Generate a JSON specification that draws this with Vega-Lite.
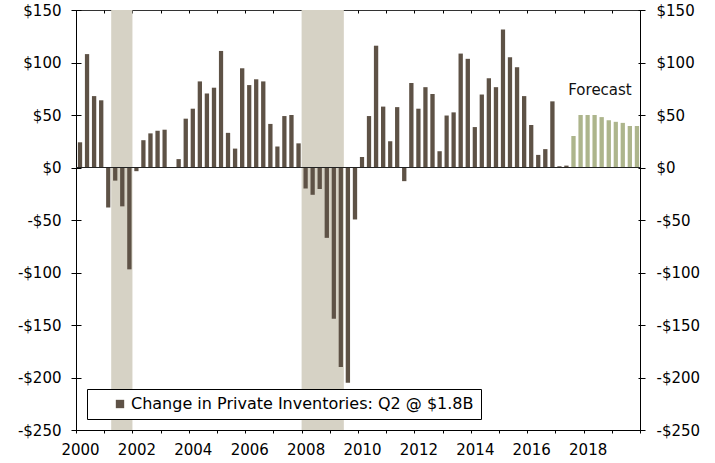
{
  "$schema": "https://vega.github.io/schema/vega-lite/v6.json",
  "width": 564,
  "height": 420,
  "autosize": {"type": "none"},
  "padding": {"left": 76, "top": 10, "right": 75, "bottom": 33},
  "background": "#ffffff",
  "config": {
    "font": "DejaVu Sans",
    "view": {"stroke": "#333333", "strokeWidth": 1},
    "axis": {
      "labelFont": "DejaVu Sans",
      "labelFontSize": 15,
      "labelColor": "#000000",
      "domainColor": "#000000",
      "tickColor": "#000000",
      "grid": false,
      "title": null
    }
  },
  "datasets": {
    "inv": [
      {"date": "2000-01-01", "value": 24, "series": "A"},
      {"date": "2000-04-01", "value": 108, "series": "A"},
      {"date": "2000-07-01", "value": 68, "series": "A"},
      {"date": "2000-10-01", "value": 64, "series": "A"},
      {"date": "2001-01-01", "value": -38, "series": "A"},
      {"date": "2001-04-01", "value": -12.5, "series": "A"},
      {"date": "2001-07-01", "value": -37, "series": "A"},
      {"date": "2001-10-01", "value": -97, "series": "A"},
      {"date": "2002-01-01", "value": -3.5, "series": "A"},
      {"date": "2002-04-01", "value": 26, "series": "A"},
      {"date": "2002-07-01", "value": 32.5, "series": "A"},
      {"date": "2002-10-01", "value": 35, "series": "A"},
      {"date": "2003-01-01", "value": 36, "series": "A"},
      {"date": "2003-04-01", "value": 0, "series": "A"},
      {"date": "2003-07-01", "value": 8, "series": "A"},
      {"date": "2003-10-01", "value": 46.5, "series": "A"},
      {"date": "2004-01-01", "value": 56, "series": "A"},
      {"date": "2004-04-01", "value": 82, "series": "A"},
      {"date": "2004-07-01", "value": 70.5, "series": "A"},
      {"date": "2004-10-01", "value": 76, "series": "A"},
      {"date": "2005-01-01", "value": 111, "series": "A"},
      {"date": "2005-04-01", "value": 33, "series": "A"},
      {"date": "2005-07-01", "value": 18, "series": "A"},
      {"date": "2005-10-01", "value": 94.5, "series": "A"},
      {"date": "2006-01-01", "value": 78.5, "series": "A"},
      {"date": "2006-04-01", "value": 84, "series": "A"},
      {"date": "2006-07-01", "value": 82, "series": "A"},
      {"date": "2006-10-01", "value": 41.5, "series": "A"},
      {"date": "2007-01-01", "value": 20, "series": "A"},
      {"date": "2007-04-01", "value": 49, "series": "A"},
      {"date": "2007-07-01", "value": 50, "series": "A"},
      {"date": "2007-10-01", "value": 23, "series": "A"},
      {"date": "2008-01-01", "value": -20, "series": "A"},
      {"date": "2008-04-01", "value": -26, "series": "A"},
      {"date": "2008-07-01", "value": -20.5, "series": "A"},
      {"date": "2008-10-01", "value": -67, "series": "A"},
      {"date": "2009-01-01", "value": -144, "series": "A"},
      {"date": "2009-04-01", "value": -190, "series": "A"},
      {"date": "2009-07-01", "value": -205, "series": "A"},
      {"date": "2009-10-01", "value": -49.5, "series": "A"},
      {"date": "2010-01-01", "value": 10, "series": "A"},
      {"date": "2010-04-01", "value": 49, "series": "A"},
      {"date": "2010-07-01", "value": 116, "series": "A"},
      {"date": "2010-10-01", "value": 58, "series": "A"},
      {"date": "2011-01-01", "value": 25, "series": "A"},
      {"date": "2011-04-01", "value": 57.5, "series": "A"},
      {"date": "2011-07-01", "value": -13, "series": "A"},
      {"date": "2011-10-01", "value": 80.5, "series": "A"},
      {"date": "2012-01-01", "value": 56, "series": "A"},
      {"date": "2012-04-01", "value": 76.5, "series": "A"},
      {"date": "2012-07-01", "value": 70, "series": "A"},
      {"date": "2012-10-01", "value": 15.5, "series": "A"},
      {"date": "2013-01-01", "value": 49.5, "series": "A"},
      {"date": "2013-04-01", "value": 52.5, "series": "A"},
      {"date": "2013-07-01", "value": 108.5, "series": "A"},
      {"date": "2013-10-01", "value": 103.5, "series": "A"},
      {"date": "2014-01-01", "value": 38.5, "series": "A"},
      {"date": "2014-04-01", "value": 69.5, "series": "A"},
      {"date": "2014-07-01", "value": 85, "series": "A"},
      {"date": "2014-10-01", "value": 76.5, "series": "A"},
      {"date": "2015-01-01", "value": 131.5, "series": "A"},
      {"date": "2015-04-01", "value": 105, "series": "A"},
      {"date": "2015-07-01", "value": 95.5, "series": "A"},
      {"date": "2015-10-01", "value": 68, "series": "A"},
      {"date": "2016-01-01", "value": 40.5, "series": "A"},
      {"date": "2016-04-01", "value": 12, "series": "A"},
      {"date": "2016-07-01", "value": 17.5, "series": "A"},
      {"date": "2016-10-01", "value": 63, "series": "A"},
      {"date": "2017-01-01", "value": 1.2, "series": "A"},
      {"date": "2017-04-01", "value": 1.8, "series": "A"},
      {"date": "2017-07-01", "value": 30, "series": "F"},
      {"date": "2017-10-01", "value": 50, "series": "F"},
      {"date": "2018-01-01", "value": 50, "series": "F"},
      {"date": "2018-04-01", "value": 50, "series": "F"},
      {"date": "2018-07-01", "value": 48, "series": "F"},
      {"date": "2018-10-01", "value": 45, "series": "F"},
      {"date": "2019-01-01", "value": 43.5, "series": "F"},
      {"date": "2019-04-01", "value": 42.5, "series": "F"},
      {"date": "2019-07-01", "value": 39.5, "series": "F"},
      {"date": "2019-10-01", "value": 39.5, "series": "F"}
    ],
    "rec": [
      {"start": "2001-04-01", "end": "2002-01-01"},
      {"start": "2008-01-01", "end": "2009-07-01"}
    ],
    "note": [
      {"date": "2018-08-01", "value": 74, "label": "Forecast"}
    ]
  },
  "layer": [
    {
      "data": {"name": "rec"},
      "mark": {"type": "rect", "color": "#d6d2c5"},
      "encoding": {
        "x": {
          "field": "start",
          "type": "temporal",
          "scale": {"type": "utc", "domain": [{"year": 2000, "month": 1, "date": 1, "utc": true}, {"year": 2020, "month": 1, "date": 1, "utc": true}]},
          "axis": {
            "tickCount": {"interval": "year", "step": 1},
            "labelExpr": "utcyear(datum.value) % 2 == 0 && utcyear(datum.value) < 2020 ? utcFormat(datum.value, '%Y') : ''",
            "tickSize": 3,
            "labelPadding": 9,
            "labelOffset": 4,
            "labelFlush": false,
            "labelOverlap": false
          }
        },
        "x2": {"field": "end"},
        "y": {
          "datum": 150,
          "type": "quantitative",
          "axis": {
            "orient": "right",
            "offset": -2,
            "values": [-250, -200, -150, -100, -50, 0, 50, 100, 150],
            "labels": false,
            "domain": false,
            "tickSize": 2
          }
        },
        "y2": {"datum": -250}
      }
    },
    {
      "data": {"name": "inv"},
      "mark": {"type": "bar", "width": {"band": 0.75}},
      "encoding": {
        "x": {"field": "date", "timeUnit": "utcyearquarter", "type": "temporal", "axis": null},
        "y": {
          "field": "value",
          "type": "quantitative",
          "scale": {"domain": [-250, 150], "nice": false, "zero": false},
          "axis": {
            "orient": "left",
            "values": [-250, -200, -150, -100, -50, 0, 50, 100, 150],
            "labelExpr": "datum.value < 0 ? '-$' + abs(datum.value) : '$' + datum.value",
            "tickSize": 5,
            "labelPadding": 10
          }
        },
        "color": {
          "field": "series",
          "type": "nominal",
          "scale": {"domain": ["A", "F"], "range": ["#5e5246", "#adb58c"]},
          "legend": {
            "values": ["A"],
            "orient": "none",
            "legendX": 11,
            "legendY": 379,
            "title": null,
            "labelExpr": "datum.label == 'A' ? 'Change in Private Inventories: Q2 @ $1.8B     ' : ''",
            "labelLimit": 700,
            "labelFont": "DejaVu Sans",
            "labelFontSize": 16,
            "labelColor": "#000000",
            "labelOffset": 3,
            "symbolType": "square",
            "symbolSize": 70,
            "symbolStrokeWidth": 0,
            "symbolOffset": 18,
            "strokeColor": "#000000",
            "fillColor": "#ffffff",
            "padding": 7
          }
        }
      }
    },
    {
      "data": {"values": [{}]},
      "mark": {"type": "rule", "color": "#222222", "strokeWidth": 1.2},
      "encoding": {
        "y": {
          "datum": 0,
          "type": "quantitative",
          "axis": {
            "orient": "right",
            "values": [-250, -200, -150, -100, -50, 0, 50, 100, 150],
            "labelExpr": "datum.value < 0 ? '-$' + abs(datum.value) : '$' + datum.value",
            "tickSize": 5,
            "labelPadding": 11
          }
        }
      }
    },
    {
      "data": {"name": "note"},
      "mark": {"type": "text", "fontSize": 15, "font": "DejaVu Sans", "color": "#111111", "align": "center", "baseline": "middle"},
      "encoding": {
        "x": {
          "field": "date",
          "type": "temporal",
          "axis": {
            "offset": -3,
            "tickCount": {"interval": "year", "step": 1},
            "labels": false,
            "domain": false,
            "tickSize": 3
          }
        },
        "y": {
          "field": "value",
          "type": "quantitative",
          "axis": {
            "orient": "left",
            "offset": -5,
            "values": [-250, -200, -150, -100, -50, 0, 50, 100, 150],
            "labels": false,
            "domain": false,
            "tickSize": 5
          }
        },
        "text": {"field": "label"}
      }
    }
  ],
  "resolve": {"axis": {"x": "independent", "y": "independent"}}
}
